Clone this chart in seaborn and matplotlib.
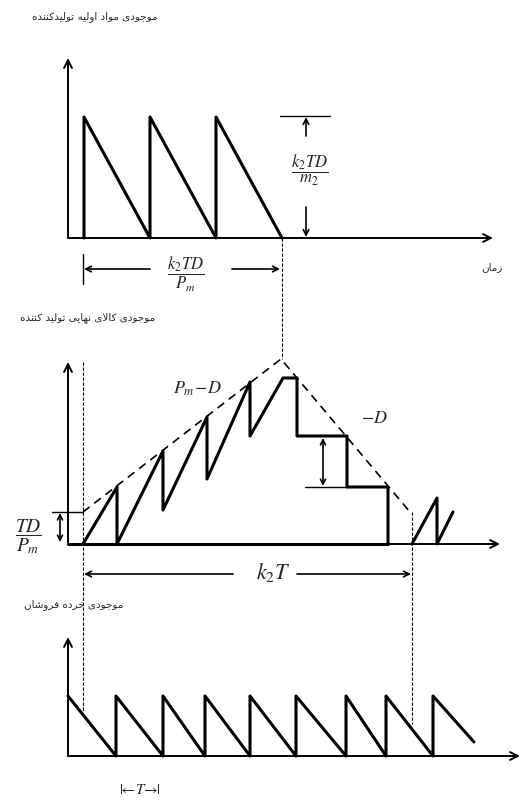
import matplotlib
matplotlib.use('Agg')
import matplotlib.pyplot as plt
import seaborn as sns
import pandas as pd

# --- data (figure pixel units, y grows downward) ---
# raw material inventory of the producer (top panel)
raw_t = [84, 84, 150, 150, 216, 216, 282]
raw_level = [239, 118, 239, 118, 239, 118, 239]

# finished goods inventory of the producer (middle panel)
fg_t = [83, 117, 117, 163, 163, 207, 207, 250, 250, 283, 297, 297, 347, 347, 388, 388]
fg_level = [545, 488, 545, 452, 511, 418, 480, 383, 437, 379, 379, 437, 437, 488, 488, 545]
fg_next_t = [412, 437, 437, 453]
fg_next_level = [545, 499, 545, 513]
envelope_t = [83, 281, 410]
envelope_level = [513, 360, 513]

# retailer inventory (bottom panel)
ret_t = [68, 116, 116, 163, 163, 205, 205, 250, 250, 296, 296, 346, 346, 386, 386, 433, 433, 474]
ret_level = [697, 757, 697, 757, 697, 757, 697, 757, 697, 757, 697, 757, 697, 757, 697, 757, 697, 743]

titles = ['موجودی مواد اولیه تولیدکننده', 'موجودی کالای نهایی تولید کننده', 'موجودی خرده فروشان']
time_label = 'زمان'

# Persian letters -> (isolated, final, initial, medial)
FORMS = {
    '\u0627': ('\uFE8D', '\uFE8E', None, None),
    '\u062A': ('\uFE95', '\uFE96', '\uFE97', '\uFE98'),
    '\u062C': ('\uFE9D', '\uFE9E', '\uFE9F', '\uFEA0'),
    '\u062E': ('\uFEA5', '\uFEA6', '\uFEA7', '\uFEA8'),
    '\u062F': ('\uFEA9', '\uFEAA', None, None),
    '\u0631': ('\uFEAD', '\uFEAE', None, None),
    '\u0632': ('\uFEAF', '\uFEB0', None, None),
    '\u0634': ('\uFEB5', '\uFEB6', '\uFEB7', '\uFEB8'),
    '\u0641': ('\uFED1', '\uFED2', '\uFED3', '\uFED4'),
    '\u0644': ('\uFEDD', '\uFEDE', '\uFEDF', '\uFEE0'),
    '\u0645': ('\uFEE1', '\uFEE2', '\uFEE3', '\uFEE4'),
    '\u0646': ('\uFEE5', '\uFEE6', '\uFEE7', '\uFEE8'),
    '\u0647': ('\uFEE9', '\uFEEA', '\uFEEB', '\uFEEC'),
    '\u0648': ('\uFEED', '\uFEEE', None, None),
    '\u06A9': ('\uFB8E', '\uFB8F', '\uFB90', '\uFB91'),
    '\u06CC': ('\uFBFC', '\uFBFD', '\uFBFE', '\uFBFF'),
}


def shape(text):
    # minimal joining + right-to-left ordering, matplotlib does no shaping
    def joins_left(c):
        return c in FORMS and FORMS[c][2] is not None
    out = []
    i = 0
    while i < len(text):
        c = text[i]
        if c not in FORMS:
            out.append(c)
            i += 1
            continue
        conn_prev = i > 0 and joins_left(text[i - 1])
        if c == '\u0644' and i + 1 < len(text) and text[i + 1] == '\u0627':
            out.append('\uFEFC' if conn_prev else '\uFEFB')
            i += 2
            continue
        conn_next = joins_left(c) and i + 1 < len(text) and text[i + 1] in FORMS
        iso, fin, ini, med = FORMS[c]
        if conn_prev and conn_next:
            out.append(med)
        elif conn_prev:
            out.append(fin)
        elif conn_next:
            out.append(ini)
        else:
            out.append(iso)
        i += 1
    return ''.join(reversed(out))


sns.set_style('white')
plt.rcParams['mathtext.fontset'] = 'stix'
plt.rcParams['font.family'] = ['DejaVu Sans']

fig = plt.figure(figsize=(5.23, 8.03), dpi=100)
ax = fig.add_axes([0, 0, 1, 1])


def arrow(x0, y0, x1, y1, style='->', lw=1.2, ms=10):
    ax.annotate('', xy=(x1, y1), xytext=(x0, y0),
                arrowprops=dict(arrowstyle=style, lw=lw, color='black',
                                shrinkA=0, shrinkB=0, mutation_scale=ms))


def seg(xs, ys, **kw):
    ax.plot(xs, ys, color='black', **kw)


# axes of the three panels
for y0, y1, x_end in [(239, 59, 493), (545, 363, 500), (757, 638, 520)]:
    arrow(68, y0, 68, y1, lw=1.4, ms=14)
    arrow(68, y0, x_end, y0, lw=1.4, ms=14)
seg([68, 388], [545, 545], lw=2.2)

# inventory curves
for xs, ys in [(raw_t, raw_level), (fg_t, fg_level), (fg_next_t, fg_next_level), (ret_t, ret_level)]:
    df = pd.DataFrame({'t': xs, 'level': ys})
    sns.lineplot(data=df, x='t', y='level', sort=False, estimator=None,
                 color='black', lw=2.2, ax=ax)

sns.lineplot(x=envelope_t, y=envelope_level, sort=False, estimator=None,
             color='black', lw=1.2, ls=(0, (5, 3.5)), ax=ax)

# dashed guides between panels
for x, ya, yb in [(282, 239, 360), (83, 363, 712), (412, 513, 725)]:
    seg([x, x], [ya, yb], lw=0.8, ls=(0, (3, 1.5)))

# top panel dimension marks
seg([280, 330], [117, 117], lw=1)
arrow(306, 137, 306, 118)
arrow(306, 208, 306, 238)
seg([83, 83], [255, 285], lw=1)
arrow(150, 270, 84, 270)
arrow(232, 270, 280, 270)

# middle panel dimension marks
seg([52, 83], [513, 513], lw=1)
arrow(60, 514, 60, 543, style='<->', ms=9)
arrow(323, 439, 323, 487, style='<->', ms=9)
seg([305, 347], [488, 488], lw=1)
arrow(233, 575, 84, 575)
arrow(297, 575, 411, 575)

# math labels
ax.text(310, 170, r'$\dfrac{k_2TD}{m_2}$', fontsize=12, ha='center', va='center')
ax.text(186, 274, r'$\dfrac{k_2TD}{P_m}$', fontsize=12, ha='center', va='center')
ax.text(28, 537, r'$\dfrac{TD}{P_m}$', fontsize=14, ha='center', va='center')
ax.text(197, 389, r'$P_m\!-\!D$', fontsize=13, ha='center', va='center')
ax.text(374, 418, r'$-D$', fontsize=13, ha='center', va='center')
ax.text(273, 573, r'$k_2T$', fontsize=16, ha='center', va='center')
ax.text(140, 790, r'$|\!\!\leftarrow\! T\! \rightarrow\!\!|$', fontsize=11, ha='center', va='center')

# persian labels
ax.text(157, 17, shape(titles[0]), fontsize=7.5, ha='right', va='center')
ax.text(155, 318, shape(titles[1]), fontsize=7.5, ha='right', va='center')
ax.text(123, 605, shape(titles[2]), fontsize=7.5, ha='right', va='center')
ax.text(503, 267, shape(time_label), fontsize=7.5, ha='right', va='center')

ax.set_xlim(0, 523)
ax.set_ylim(803, 0)
ax.set_axis_off()

fig.savefig('out.png', dpi=100)
